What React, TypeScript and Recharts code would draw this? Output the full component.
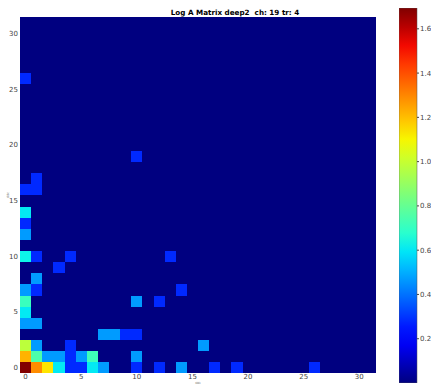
import { ScatterChart, Scatter, XAxis, YAxis, BarChart, Bar, Label } from "recharts";

// sparse log A matrix (row = y index, col = x index), every other cell is 0
const cellRow = [
  0, 0, 0, 0, 0, 0, 0, 0, 0, 0, 0, 0, 0, 0,
  1, 1, 1, 1, 1, 1, 1, 1,
  2, 2, 2, 2,
  3, 3, 3, 3,
  4, 4,
  5,
  6, 6, 6,
  7, 7, 7,
  8,
  9,
  10, 10, 10, 10,
  12, 13, 14,
  16, 16, 17, 19, 26,
];
const cellCol = [
  0, 1, 2, 3, 4, 5, 6, 7, 10, 12, 14, 17, 19, 26,
  0, 1, 2, 3, 4, 5, 6, 10,
  0, 1, 4, 16,
  7, 8, 9, 10,
  0, 1,
  0,
  0, 10, 12,
  0, 1, 14,
  1,
  3,
  0, 1, 4, 13,
  0, 0, 0,
  0, 1, 1, 10, 0,
];
const cellVal = [
  1.69, 1.29, 1.13, 0.6, 0.28, 0.28, 0.6, 0.47, 0.28, 0.28, 0.47, 0.28, 0.28, 0.28,
  1.22, 0.75, 0.47, 0.47, 0.28, 0.47, 0.72, 0.47,
  0.98, 0.47, 0.28, 0.47,
  0.47, 0.47, 0.28, 0.28,
  0.47, 0.47,
  0.6,
  0.71, 0.47, 0.28,
  0.47, 0.28, 0.28,
  0.47,
  0.28,
  0.62, 0.28, 0.28, 0.28,
  0.47, 0.28, 0.6,
  0.28, 0.28, 0.28, 0.28, 0.28,
];

const gridSize = 32;
const vMax = 1.694;
const axisTicks = [0, 5, 10, 15, 20, 25, 30];
const barTicks = [0, 0.2, 0.4, 0.6, 0.8, 1.0, 1.2, 1.4, 1.6];
const title = "Log A Matrix deep2  ch: 19 tr: 4";

// matplotlib jet
const jetR = [[0, 0], [0.35, 0], [0.66, 1], [0.89, 1], [1, 0.5]];
const jetG = [[0, 0], [0.125, 0], [0.375, 1], [0.64, 1], [0.91, 0], [1, 0]];
const jetB = [[0, 0.5], [0.11, 1], [0.34, 1], [0.65, 0], [1, 0]];

const seg = (pts: number[][], t: number) => {
  for (let i = 1; i < pts.length; i++) {
    if (t <= pts[i][0]) {
      const [x0, y0] = pts[i - 1];
      const [x1, y1] = pts[i];
      return y0 + ((y1 - y0) * (t - x0)) / (x1 - x0);
    }
  }
  return pts[pts.length - 1][1];
};
const jet = (t: number) => {
  const c = Math.max(0, Math.min(1, t));
  const h = (v: number) => Math.round(v * 255).toString(16).padStart(2, "0");
  return `#${h(seg(jetR, c))}${h(seg(jetG, c))}${h(seg(jetB, c))}`;
};

const cells: { x: number; y: number; v: number }[] = [];
for (let r = 0; r < gridSize; r++) {
  for (let c = 0; c < gridSize; c++) {
    cells.push({ x: c, y: r, v: 0 });
  }
}
cellRow.forEach((r, i) => {
  cells[r * gridSize + cellCol[i]].v = cellVal[i];
});

const W = 431;
const H = 385;
const yAxisW = 20;
const xAxisH = 12;
const margin = { top: 17, right: 55, bottom: 0, left: 0 };
const cellW = (W - yAxisW - margin.right) / gridSize;
const cellH = (H - margin.top - xAxisH) / gridSize;

const tickStyle = { fontSize: 7, fill: "#444", fontFamily: "DejaVu Sans" };

const Cell = (props: any) => {
  const { cx, cy, payload } = props;
  return (
    <rect
      x={cx - cellW / 2}
      y={cy - cellH / 2}
      width={cellW + 0.4}
      height={cellH + 0.4}
      fill={jet(payload.v / vMax)}
      shapeRendering="crispEdges"
    />
  );
};

const jetStops = Array.from({ length: 21 }, (_, i) => i / 20);

export default function App() {
  return (
    <div style={{ position: "absolute", left: 0, top: 0, width: W, height: H, background: "#fff" }}>
      <div
        style={{
          position: "absolute",
          left: 235,
          top: 8,
          transform: "translateX(-50%)",
          whiteSpace: "pre",
          fontFamily: "DejaVu Sans",
          fontWeight: "bold",
          fontSize: 7.2,
          color: "#000",
        }}
      >
        {title}
      </div>
      <div style={{ position: "absolute", left: 0, top: 0 }}>
        <ScatterChart width={W} height={H} margin={margin}>
          <XAxis
            type="number"
            dataKey="x"
            domain={[-0.5, gridSize - 0.5]}
            ticks={axisTicks}
            allowDataOverflow
            height={xAxisH}
            tickSize={0}
            tickMargin={1}
            axisLine={false}
            tick={tickStyle}
          >
            <Label value="state" position="center" dy={4} fontSize={3} fill="#666" />
          </XAxis>
          <YAxis
            type="number"
            dataKey="y"
            domain={[-0.5, gridSize - 0.5]}
            ticks={axisTicks}
            allowDataOverflow
            width={yAxisW}
            tickSize={0}
            tickMargin={2}
            axisLine={false}
            tick={tickStyle}
          >
            <Label value="state" angle={-90} position="center" dx={-2} fontSize={3} fill="#666" />
          </YAxis>
          <Scatter data={cells} shape={Cell} isAnimationActive={false} />
        </ScatterChart>
      </div>
      <div style={{ position: "absolute", left: 399, top: 0 }}>
        <BarChart
          width={32}
          height={H}
          data={[{ name: "cb", v: vMax }]}
          margin={{ top: 8, right: 0, bottom: 2, left: 0 }}
          barCategoryGap={0}
        >
          <defs>
            <linearGradient id="jetbar" x1="0" y1="1" x2="0" y2="0">
              {jetStops.map((t) => (
                <stop key={t} offset={`${t * 100}%`} stopColor={jet(t)} />
              ))}
            </linearGradient>
          </defs>
          <XAxis dataKey="name" hide />
          <YAxis
            orientation="right"
            domain={[0, vMax]}
            ticks={barTicks}
            allowDataOverflow
            width={14}
            tickSize={2}
            tickMargin={1}
            axisLine={false}
            tickLine={{ stroke: "#444" }}
            tickFormatter={(v: number) => v.toFixed(1)}
            tick={tickStyle}
          />
          <Bar dataKey="v" fill="url(#jetbar)" stroke="#555" strokeWidth={0.5} isAnimationActive={false} />
        </BarChart>
      </div>
    </div>
  );
}
